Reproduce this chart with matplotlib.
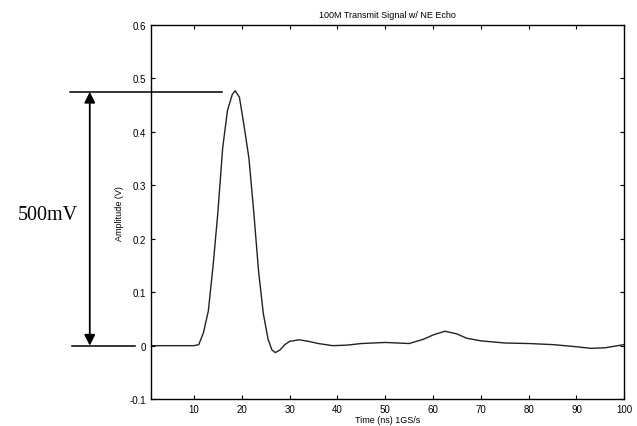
import matplotlib
matplotlib.use("Agg")
import matplotlib.pyplot as plt

# time axis (ns) and measured amplitude (V)
time_ns = [1, 5, 10, 11, 12, 13, 14, 15, 16, 17, 18, 18.6, 19.5, 20.5, 21.5,
           22.5, 23.5, 24.5, 25.5, 26.3, 27, 28, 29, 30, 32, 34, 36, 39, 42,
           45, 50, 55, 58, 60, 62.5, 65, 67, 70, 75, 80, 85, 90, 93, 96, 100]
amp_v = [0, 0, 0, 0.002, 0.025, 0.065, 0.15, 0.25, 0.37, 0.44, 0.47, 0.477,
         0.465, 0.41, 0.35, 0.25, 0.14, 0.06, 0.012, -0.008, -0.013, -0.008,
         0.002, 0.008, 0.011, 0.008, 0.004, 0.0, 0.001, 0.004, 0.006, 0.004,
         0.012, 0.02, 0.027, 0.022, 0.014, 0.009, 0.005, 0.004, 0.002, -0.002,
         -0.005, -0.004, 0.002]

xticks = [10, 20, 30, 40, 50, 60, 70, 80, 90, 100]
yticks = [-0.1, 0, 0.1, 0.2, 0.3, 0.4, 0.5, 0.6]
ytick_labels = ["-0.1", "0", "0.1", "0.2", "0.3", "0.4", "0.5", "0.6"]

peak_level = 0.475
span_label = "500mV"

plt.rcParams['font.family'] = ['Liberation Sans', 'DejaVu Sans']

fig = plt.figure(figsize=(6.37, 4.27), dpi=100)
ax = fig.add_axes([0.237, 0.063, 0.743, 0.876])

ax.plot(time_ns, amp_v, color='#222222', linewidth=1.0)

ax.set_xlim(1, 100)
ax.set_ylim(-0.1, 0.6)
ax.set_xticks(xticks)
ax.set_yticks(yticks)
ax.set_yticklabels(ytick_labels)
ax.tick_params(direction='in', top=True, right=True, labelsize=7, length=3)
for s in ax.spines.values():
    s.set_linewidth(1.0)

ax.set_title("100M Transmit Signal w/ NE Echo", fontsize=6.5, pad=6)
ax.set_xlabel("Time (ns) 1GS/s", fontsize=6.5, labelpad=1)
ax.set_ylabel("Amplitude (V)", fontsize=6.5, labelpad=4)

# hand-drawn style markings outside the axes
ax.plot([-15.9, 15.9], [peak_level, peak_level], color='black', lw=1.1, clip_on=False)
ax.plot([-15.5, -2.3], [0, 0], color='black', lw=1.1, clip_on=False)
ax.annotate("", xy=(-11.8, 0), xytext=(-11.8, peak_level),
            arrowprops=dict(arrowstyle='<|-|>', color='black', lw=1.3,
                            mutation_scale=16, shrinkA=0, shrinkB=0),
            annotation_clip=False)
ax.text(-20.5, 0.245, span_label, fontsize=14.5, family='Liberation Serif',
        ha='center', va='center')

fig.savefig("out.png", dpi=100)
